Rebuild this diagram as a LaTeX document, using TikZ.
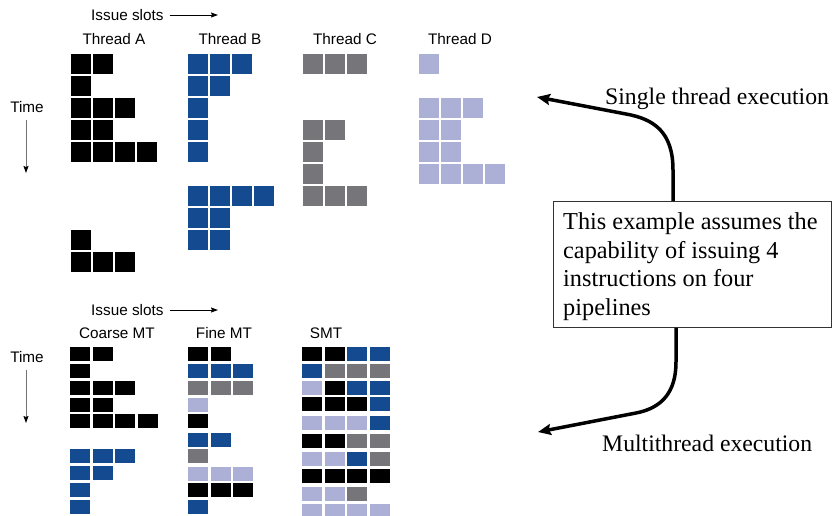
\documentclass[tikz,border=0pt]{standalone}
\usepackage{fontspec}
\setmainfont{Liberation Serif}
\newfontfamily\labsans{Liberation Sans}
\usetikzlibrary{arrows.meta}
\definecolor{slotK}{RGB}{0,0,0}
\definecolor{slotB}{RGB}{20,74,144}
\definecolor{slotG}{RGB}{118,118,122}
\definecolor{slotL}{RGB}{172,176,214}
\newcommand\slotgrid[5]{%
  \foreach \yy/\cs in {#5}{%
    \foreach \c [count=\i from 0] in \cs {%
      \fill[slot\c] ({#1+#2*\i},\yy) rectangle ++(#3,#4);}}}
\begin{document}
\begin{tikzpicture}[x=1pt,y=-1pt,
  sanslab/.style={font=\labsans\fontsize{15.3}{17}\selectfont, inner sep=0pt},
  seriflab/.style={font=\fontsize{23.7}{28.5}\selectfont, inner sep=0pt},
  thinarrow/.style={line width=0.9pt, -{Stealth[length=7pt,width=5pt,inset=1pt,color=black]}},
  timearrow/.style={thinarrow, draw=black!55},
  bigarrow/.style={line width=3.5pt, -{Stealth[length=13pt,width=11pt,inset=2pt]}},
  notebox/.style={draw=black!80, line width=0.8pt, anchor=north west,
    minimum width=278pt, minimum height=126pt, inner sep=0pt},
  notetext/.style={anchor=north west, align=left, inner sep=0pt,
    font=\fontsize{24.3}{28.6}\selectfont}]
\fill[white] (0,0) rectangle (836,515);
\useasboundingbox (0,0) rectangle (836,515);

% ---------- top half ----------
\node[sanslab, anchor=west] (is1) at (91,15) {Issue slots};
\coordinate (is1end) at (218,15);
\draw[thinarrow] ([xshift=6pt]is1.east) -- (is1end);
\node[sanslab] (tA) at (114,39) {Thread A};
\node[sanslab] (tB) at (230,39) {Thread B};
\node[sanslab] (tC) at (345,39) {Thread C};
\node[sanslab] (tD) at (460,39) {Thread D};
\node[sanslab] (time1) at (27,107) {Time};
\coordinate (time1end) at (26,173);
\draw[timearrow] ([yshift=-7pt]time1.south -| time1end) -- (time1end);

\slotgrid{71}{22}{20}{19.8}{54.3/{K,K}, 76.3/{K}, 98.3/{K,K,K}, 120.3/{K,K}, 142.3/{K,K,K,K}, 230.3/{K}, 252.3/{K,K,K}}
\slotgrid{188}{22}{20}{19.8}{54.3/{B,B,B}, 76.3/{B,B}, 98.3/{B}, 120.3/{B}, 142.3/{B}, 186.3/{B,B,B,B}, 208.3/{B,B}, 230.3/{B,B}}
\slotgrid{303}{22}{20}{19.8}{54.3/{G,G,G}, 120.3/{G,G}, 142.3/{G}, 164.3/{G}, 186.3/{G,G,G}}
\slotgrid{419}{22}{20}{19.8}{54.3/{L}, 98.3/{L,L,L}, 120.3/{L,L}, 142.3/{L,L}, 164.3/{L,L,L,L}}

% ---------- bottom half ----------
\node[sanslab, anchor=west] (is2) at (91,310) {Issue slots};
\coordinate (is2end) at (218,310);
\draw[thinarrow] ([xshift=6pt]is2.east) -- (is2end);
\node[sanslab] (cmt) at (117,333) {Coarse MT};
\node[sanslab] (fmt) at (224,333) {Fine MT};
\node[sanslab] (smt) at (326,333) {SMT};
\node[sanslab] (time2) at (27,357) {Time};
\coordinate (time2end) at (26,423);
\draw[timearrow] ([yshift=-7pt]time2.south -| time2end) -- (time2end);

\slotgrid{70}{22.6}{20}{14}{347/{K,K}, 364/{K}, 381/{K,K,K}, 397.5/{K,K}, 414.3/{K,K,K,K}, 449/{B,B,B}, 466/{B,B}, 483/{B}, 500/{B}}
\slotgrid{188}{22.6}{20}{14}{347/{K,K}, 364/{B,B,B}, 381/{G,G,G}, 397.5/{L}, 414.3/{K}, 432.5/{B,B}, 449/{G}, 466.5/{L,L,L}, 483/{K,K,K}, 500/{B}}
\slotgrid{302}{22.6}{20}{14}{347.3/{K,K,B,B}, 364/{B,G,G,G}, 380.7/{L,K,B,B}, 397.3/{K,K,K,B}, 416.3/{L,L,L,B}, 434/{K,K,G,G}, 451.5/{L,L,B,G}, 469/{K,K,K,K}, 486.5/{L,L,G}, 504.3/{L,L,L,L}}

% ---------- right side ----------
\node[notebox] (box) at (553,201) {};
\node[notetext] (boxtext) at (563,212.5) {This example assumes the\\capability of issuing 4\\instructions on four\\pipelines};
\node[seriflab, anchor=base west] (single) at (605,104) {Single thread execution};
\node[seriflab, anchor=base west] (multi) at (602,451) {Multithread execution};
\coordinate (tipS) at (537,97);
\coordinate (bendA) at (673,170);
\coordinate (tipM) at (538,432);
\coordinate (bendB) at (676,362);
\draw[bigarrow] (box.north -| bendA) -- (bendA) .. controls (673,132) and (654,119) .. (626,114) -- (tipS);
\draw[bigarrow] (box.south -| bendB) -- (bendB) .. controls (676,392) and (662,408) .. (636,413) -- (tipM);
\end{tikzpicture}
\end{document}
